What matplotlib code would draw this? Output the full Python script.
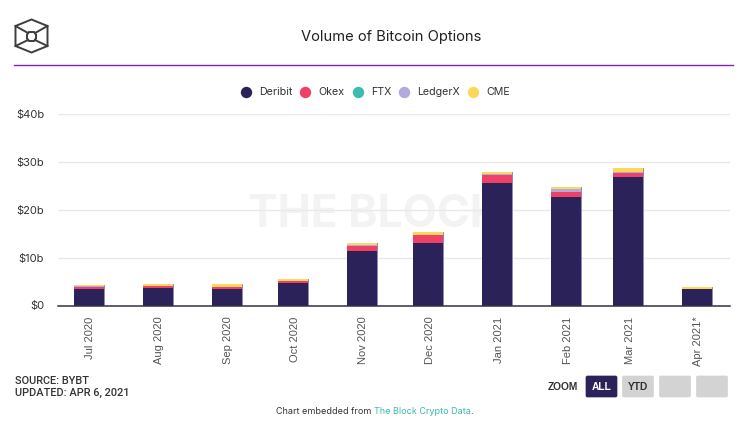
import datetime as dt
import matplotlib
matplotlib.use('Agg')
import matplotlib.dates as mdates
import matplotlib.pyplot as plt
from matplotlib.patches import FancyBboxPatch, Polygon
from matplotlib.transforms import ScaledTranslation

plt.rcParams['font.family'] = ['Inter', 'DejaVu Sans']

# data, $ billions per month
months = [dt.date(2020, 7, 1), dt.date(2020, 8, 1), dt.date(2020, 9, 1), dt.date(2020, 10, 1),
          dt.date(2020, 11, 1), dt.date(2020, 12, 1), dt.date(2021, 1, 1), dt.date(2021, 2, 1),
          dt.date(2021, 3, 1), dt.date(2021, 4, 1)]
month_labels = ['Jul 2020', 'Aug 2020', 'Sep 2020', 'Oct 2020', 'Nov 2020', 'Dec 2020',
                'Jan 2021', 'Feb 2021', 'Mar 2021', 'Apr 2021*']
deribit = [3.35, 3.7, 3.45, 4.75, 11.45, 13.1, 25.65, 22.7, 26.75, 3.45]
okex = [0.6, 0.4, 0.4, 0.4, 1.05, 1.65, 1.55, 1.05, 0.85, 0.05]
ftx = [0, 0, 0.03, 0, 0, 0, 0.05, 0.05, 0.05, 0]
ledgerx = [0.05, 0.05, 0.07, 0.05, 0.05, 0.05, 0.2, 0.45, 0.25, 0]
cme = [0.25, 0.3, 0.5, 0.25, 0.5, 0.5, 0.45, 0.5, 0.8, 0.3]

series = [('Deribit', deribit, '#2b2259'), ('Okex', okex, '#ef4066'), ('FTX', ftx, '#3bbcae'),
          ('LedgerX', ledgerx, '#b3a9dc'), ('CME', cme, '#fad95a')]
y_ticks = [0, 10, 20, 30, 40]
y_labels = ['$0', '$10b', '$20b', '$30b', '$40b']

W, H = 742, 430
fig = plt.figure(figsize=(W / 100, H / 100), dpi=100, facecolor='white')

# overlay in pixel coords for header/footer furniture
deco = fig.add_axes([0, 0, 1, 1], zorder=3)
deco.set_xlim(0, W)
deco.set_ylim(H, 0)
deco.axis('off')

ax = fig.add_axes([58 / W, 1 - 305.5 / H, 672 / W, 191.5 / H], zorder=2)
ax.patch.set_alpha(0)

x = mdates.date2num(months)
bottom = [0] * len(months)
for name, vals, color in series:
    ax.bar(x, vals, width=13.5, bottom=bottom, color=color, linewidth=0, zorder=3)
    bottom = [b + v for b, v in zip(bottom, vals)]
# pale outline around the stacks
ax.bar(x, bottom, width=13.5, fill=False, edgecolor='#8f86b5', linewidth=0.7, zorder=2.5)

ax.set_xlim(x[0] - 13.97, x[0] + 288.9)
ax.set_ylim(0, 40)
ax.set_yticks(y_ticks, y_labels, fontsize=8, color='#333333')
ax.set_xticks(x, month_labels, rotation=90, fontsize=8, color='#555555',
              family=['Liberation Sans'])
ax.tick_params(axis='y', length=0, pad=10)
ax.tick_params(axis='x', length=0, pad=8)
# labels sit a touch right of the bar centres
shift = ScaledTranslation(1.5 / 100, 0, fig.dpi_scale_trans)
for lab in ax.get_xticklabels():
    lab.set_transform(lab.get_transform() + shift)
ax.grid(axis='y', color='#e9e9e9', linewidth=1, zorder=0.5)
ax.set_axisbelow(True)
for side in ['top', 'right', 'left']:
    ax.spines[side].set_visible(False)
ax.spines['bottom'].set_color('#333340')
ax.spines['bottom'].set_linewidth(1.1)
ax.spines['bottom'].set_zorder(5)

# watermark sits behind the bars and grid
ax.text((248 - 58) / 672, (305.5 - 215) / 191.5, 'THE BLOCK', transform=ax.transAxes, ha='left',
        va='center', fontsize=32, fontweight='bold', color='#f3f3f3', zorder=0.1)

# title and rule
deco.text(391, 37.5, 'Volume of Bitcoin Options', ha='center', va='center', fontsize=10.6,
          color='#222222')
deco.plot([14, 733], [64.5, 64.5], color='#8a1fb5', lw=1.0)

# logo
logo_c = '#3d3d3d'
deco.add_patch(Polygon([(31.5, 19.5), (47.5, 26), (47.5, 46), (31.5, 52.5), (15.5, 46), (15.5, 26)],
                       closed=True, fill=False, ec=logo_c, lw=1.4))
deco.add_patch(Polygon([(29, 32), (34, 32), (36, 34.5), (36, 38.5), (34, 41), (29, 41), (27, 38.5), (27, 34.5)],
                       closed=True, fill=False, ec=logo_c, lw=1.4))
for p, q in [((15.5, 26), (28, 33)), ((47.5, 26), (35, 33)), ((15.5, 46), (28, 40)),
             ((47.5, 46), (35, 40))]:
    deco.plot([p[0], q[0]], [p[1], q[1]], color=logo_c, lw=1.4)

# legend
legend_pos = [(246, 259), (305, 318), (358, 371), (404, 417), (473, 486)]
for (dot_x, text_x), (name, _, color) in zip(legend_pos, series):
    deco.plot(dot_x, 91.5, 'o', ms=8.2, color=color, mew=0)
    deco.text(text_x, 92, name, ha='left', va='center', fontsize=7.7, color='#333333')

# footer
deco.text(15, 381.5, 'SOURCE: BYBT', ha='left', va='center', fontsize=7.9, fontweight='medium',
          color='#333333', family=['Roboto'])
deco.text(15, 392.5, 'UPDATED: APR 6, 2021', ha='left', va='center', fontsize=7.9,
          fontweight='medium', color='#333333', family=['Roboto'])
deco.text(563, 386.5, 'ZOOM', ha='center', va='center', fontsize=7.4, fontweight='bold',
          color='#333333', family=['Liberation Sans'])
for left, label, bg, fg in [(586, 'ALL', '#2b2259', 'white'), (622.5, 'YTD', '#d3d3d3', '#333333'),
                            (659.5, '', '#d3d3d3', '#333333'), (696.5, '', '#d3d3d3', '#333333')]:
    deco.add_patch(FancyBboxPatch((left, 376), 31, 21, boxstyle='round,pad=0,rounding_size=1.5',
                                  fc=bg, ec=bg, lw=0.5))
    if label:
        deco.text(left + 15.5, 386.5, label, ha='center', va='center', fontsize=7.4, fontweight='bold',
                  color=fg, family=['Liberation Sans'])

t1 = deco.text(276, 411, 'Chart embedded from ', ha='left', va='center', fontsize=6.5, color='#333333')
t2 = deco.annotate('The Block Crypto Data', xy=(1, 0.5), xycoords=t1, va='center', ha='left',
                   fontsize=6.5, color='#3bbcae')
deco.annotate('.', xy=(1, 0.5), xycoords=t2, va='center', ha='left', fontsize=6.5, color='#333333')

fig.savefig('out.png', dpi=100)
